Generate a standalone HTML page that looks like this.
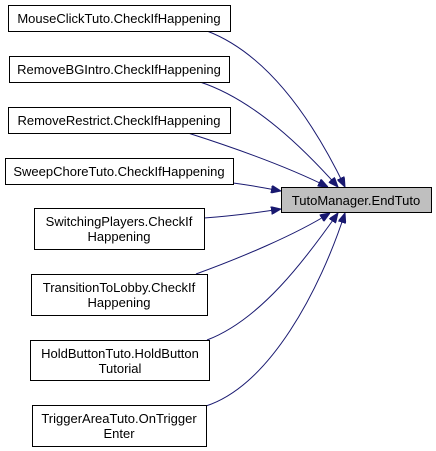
<!DOCTYPE html>
<html><head><style>
body{margin:0;background:#fff;width:436px;height:451px;overflow:hidden}
svg{position:absolute;left:0;top:0}
text{font-family:"Liberation Sans",Arial,sans-serif;font-size:13px;fill:#000;text-anchor:middle}
</style></head><body>
<svg width="436" height="451" viewBox="0 0 436 451">
<defs><marker id="a" markerWidth="10" markerHeight="8" refX="10" refY="4" orient="auto" markerUnits="userSpaceOnUse"><path d="M0,0 L10,4 L0,8 z" fill="#191970" stroke="#191970"/></marker></defs>
<g fill="none" stroke="#191970" stroke-width="1" marker-end="url(#a)">
<path d="M207,31 C270,55 315,125 345,187"/>
<path d="M200,82 C255,100 305,150 338,187"/>
<path d="M188,133 C235,148 290,168 328,187"/>
<path d="M233,183 C250,185 265,188 281,191"/>
<path d="M204,218 C230,216 255,213 281,209"/>
<path d="M196,274 C240,258 295,235 330,213"/>
<path d="M207,340 C260,320 305,260 338,213"/>
<path d="M206,406 C270,385 320,290 345,213"/>
</g>
<g stroke="#000" stroke-width="1" fill="#fff">
<rect x="8.5" y="5.5" width="222" height="26"/>
<rect x="9.5" y="56.5" width="220" height="26"/>
<rect x="8.5" y="107.5" width="222" height="26"/>
<rect x="5.5" y="158.5" width="228" height="26"/>
<rect x="34.5" y="208.5" width="170" height="41"/>
<rect x="31.5" y="274.5" width="176" height="41"/>
<rect x="30.5" y="340.5" width="179" height="40"/>
<rect x="32.5" y="405.5" width="174" height="41"/>
<rect x="281.5" y="187.5" width="150" height="25" fill="#bfbfbf"/>
</g>
<text x="119" y="23">MouseClickTuto.CheckIfHappening</text>
<text x="119" y="74">RemoveBGIntro.CheckIfHappening</text>
<text x="119" y="125">RemoveRestrict.CheckIfHappening</text>
<text x="119" y="176">SweepChoreTuto.CheckIfHappening</text>
<text x="119" y="226">SwitchingPlayers.CheckIf</text>
<text x="119" y="241">Happening</text>
<text x="119" y="292">TransitionToLobby.CheckIf</text>
<text x="119" y="307">Happening</text>
<text x="120" y="358">HoldButtonTuto.HoldButton</text>
<text x="120" y="373">Tutorial</text>
<text x="119" y="423">TriggerAreaTuto.OnTrigger</text>
<text x="119" y="438">Enter</text>
<text x="356" y="205">TutoManager.EndTuto</text>
</svg>
</body></html>
